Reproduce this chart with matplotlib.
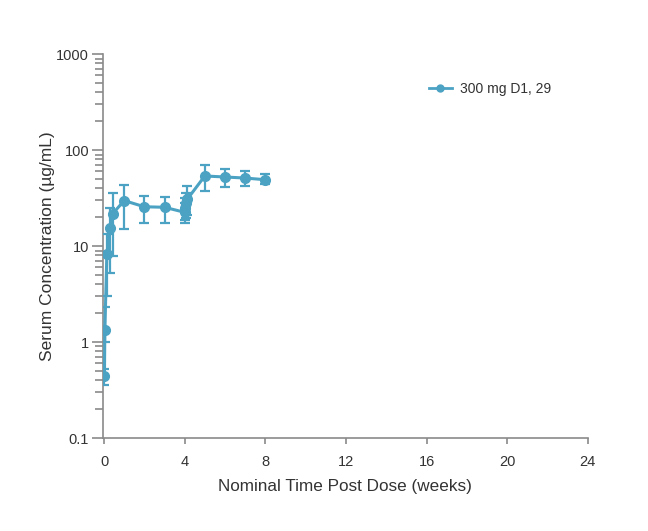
import matplotlib
matplotlib.use("Agg")
import matplotlib.pyplot as plt
from matplotlib.ticker import FixedLocator, LogLocator, NullFormatter, FixedFormatter
from matplotlib.lines import Line2D
import numpy as np

plt.rcParams['font.family'] = ['Liberation Sans', 'DejaVu Sans']

# Data (weeks, µg/mL)
time_weeks = [0.02, 0.04, 0.14, 0.29, 0.43, 1.0, 2.0, 3.0, 4.0, 4.02, 4.05, 4.14, 5.0, 6.0, 7.0, 8.0]
conc_mean = [0.446, 1.33, 8.2, 15.5, 21.8, 29.8, 25.7, 25.4, 22.5, 25.0, 28.0, 31.0, 53.8, 52.5, 51.2, 49.2]
conc_low = [0.356, 1.0, 3.03, 5.25, 7.85, 15.2, 17.6, 17.3, 17.6, 18.5, 19.5, 21.0, 37.9, 41.2, 42.2, 43.9]
conc_high = [0.53, 2.3, 13.4, 25.2, 36.0, 43.2, 33.6, 32.3, 28.0, 32.0, 36.0, 42.2, 70.7, 63.1, 60.0, 55.8]
series_label = "300 mg D1, 29"

x_ticks = [0, 4, 8, 12, 16, 20, 24]
y_ticks = [0.1, 1, 10, 100, 1000]
y_tick_labels = ["0.1", "1", "10", "100", "1000"]

color = "#4ba2c3"
spine_color = "#8a8a8a"
text_color = "#333333"

fig = plt.figure(figsize=(6.48, 5.31), dpi=100)
ax = fig.add_axes([0.159, 0.175, 0.748, 0.723])

mean = np.array(conc_mean)
yerr = [mean - np.array(conc_low), np.array(conc_high) - mean]
ax.errorbar(time_weeks, conc_mean, yerr=yerr, color=color, marker='o', markersize=7,
            linewidth=2.2, elinewidth=1.6, capsize=3.5, capthick=1.6, zorder=3)

ax.set_yscale('log')
ax.set_ylim(0.1, 1000)
ax.set_xlim(-0.05, 24)
ax.yaxis.set_major_locator(FixedLocator(y_ticks))
ax.yaxis.set_major_formatter(FixedFormatter(y_tick_labels))
ax.yaxis.set_minor_locator(LogLocator(base=10, subs=np.arange(2, 10)))
ax.yaxis.set_minor_formatter(NullFormatter())
ax.set_xticks(x_ticks)
ax.set_xticklabels([str(t) for t in x_ticks])

for side in ['top', 'right']:
    ax.spines[side].set_visible(False)
for side in ['left', 'bottom']:
    ax.spines[side].set_color(spine_color)
    ax.spines[side].set_linewidth(1.2)

ax.tick_params(axis='y', which='major', length=8, width=1.2, color=spine_color,
               labelsize=10.5, labelcolor=text_color, pad=2)
ax.tick_params(axis='y', which='minor', length=5.5, width=1.2, color=spine_color)
ax.tick_params(axis='x', which='major', length=4.5, width=1.2, color=spine_color,
               labelsize=10.5, labelcolor=text_color, pad=8)

ax.set_xlabel("Nominal Time Post Dose (weeks)", fontsize=12.3, color=text_color, labelpad=7)
ax.set_ylabel("Serum Concentration (µg/mL)", fontsize=12.5, color=text_color, labelpad=1)

handle = Line2D([], [], color=color, marker='o', markersize=5, linewidth=2.0)
leg = ax.legend([handle], [series_label], loc='upper right', bbox_to_anchor=(0.95, 0.96),
                frameon=False, fontsize=10, handlelength=1.6, handletextpad=0.6,
                labelcolor=text_color)

fig.savefig("out.png", dpi=100)
